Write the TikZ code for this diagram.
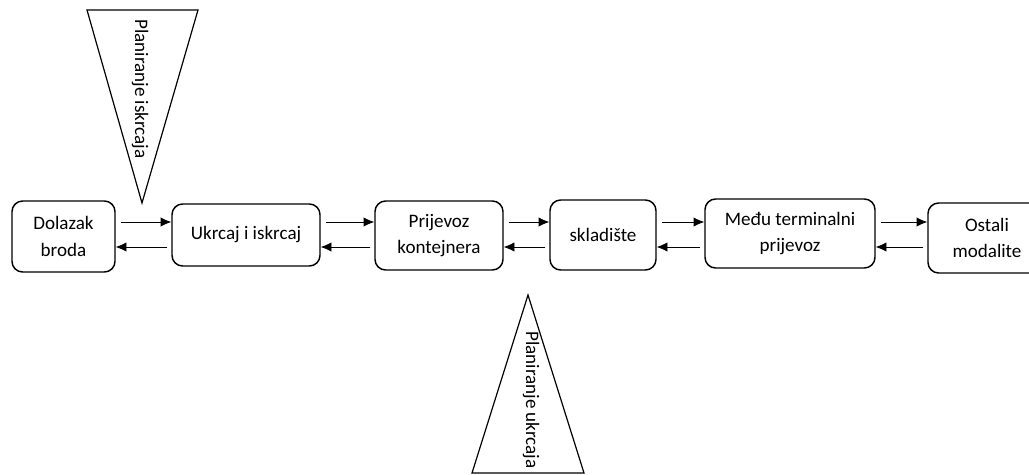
\documentclass[tikz,border=0pt]{standalone}
\usepackage{fontspec}
\setmainfont{Carlito}
\usepackage{tikz}
\usetikzlibrary{positioning}
\usetikzlibrary{calc}
\usetikzlibrary{arrows.meta}

\tikzset{
    stage/.style={draw, line width=1.1pt, rounded corners=8pt, align=center,
        inner sep=0pt, font=\fontsize{14.3}{20}\selectfont},
    flow/.style={-{Latex[length=8pt,width=7pt]}, line width=0.6pt},
    plan/.style={draw, line width=0.9pt},
    plantext/.style={rotate=-90, font=\fontsize{14.3}{18}\selectfont, inner sep=0pt}
}

\begin{document}
\begin{tikzpicture}[x=0.75pt,y=-0.75pt]
        \clip (0,0) rectangle (1029,475);

        \node[stage, minimum width=0.75*103, minimum height=0.75*71] (dolazak) at (63.5,236.5) {Dolazak\\broda};
        \node[stage, minimum width=0.75*148, minimum height=0.75*62] (ukrcaj) at (246,235) {Ukrcaj i iskrcaj};
        \node[stage, minimum width=0.75*128, minimum height=0.75*69] (prijevoz) at (439,235.5) {Prijevoz\\kontejnera};
        \node[stage, minimum width=0.75*106, minimum height=0.75*70] (skladiste) at (603,235) {skladište};
        \node[stage, minimum width=0.75*170, minimum height=0.75*69] (medju) at (790,233.5) {Među terminalni\\prijevoz};
        \node[stage, minimum width=0.75*118, minimum height=0.75*70] (ostali) at (987,238) {Ostali\\modalite};

        % strelice izmedju faza
        \foreach \a/\b in {dolazak/ukrcaj, ukrcaj/prijevoz, prijevoz/skladiste, skladiste/medju, medju/ostali}{
            \draw[flow] ($(\a.east |- 0,222)+(5,0)$) -- (\b.west |- 0,222);
            \draw[flow] ($(\b.west |- 0,247)+(-4,0)$) -- (\a.east |- 0,247);
        }

        % planiranje
        \draw[plan] (87,10) -- (198,10) -- (142,203) -- cycle;
        \node[plantext] (iskrcaj) at (140,89) {Planiranje iskrcaja};
        \draw[plan] (528,295) -- (584,473) -- (472,473) -- cycle;
        \node[plantext] (ukrcajplan) at (531,400) {Planiranje ukrcaja};
\end{tikzpicture}
\end{document}
